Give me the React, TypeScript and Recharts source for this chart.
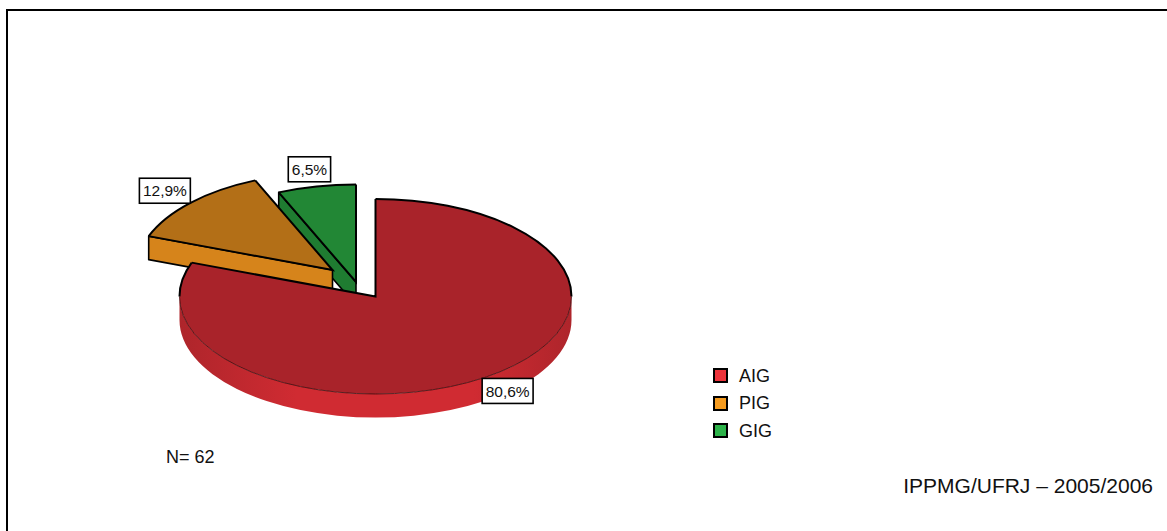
import React from 'react';
import { PieChart, Pie, Legend } from 'recharts';

// Distribution of newborns by growth class (N = 62)
const categories = ['AIG', 'PIG', 'GIG'];
const counts = [50, 8, 4];
const sampleSize = 62;
const footnote = 'IPPMG/UFRJ – 2005/2006';

// Slices are listed back-to-front so the large front slice is painted last.
const pieData = categories.map((name, i) => ({ name, value: counts[i] })).reverse();

const FONT = '"Liberation Sans", Arial, Helvetica, sans-serif';

const SLICE_STYLE: Record<string, { top: string; side: string; sideEdge: string; legend: string }> = {
  AIG: { top: '#A9232A', side: '#D02B32', sideEdge: '#AE252B', legend: '#EC333B' },
  PIG: { top: '#B36F17', side: '#D6841B', sideEdge: '#D6841B', legend: '#F59B1F' },
  GIG: { top: '#228735', side: '#1F7C31', sideEdge: '#1F7C31', legend: '#2DB34A' },
};

// Pulled-out slices (screen offset of the slice apex)
const EXPLODE: Record<string, [number, number]> = {
  AIG: [0, 0],
  PIG: [-43, -26.5],
  GIG: [-19.5, -14.5],
};

const TILT = 0.4975; // vertical squash of the disc
const DEPTH = 23.5; // thickness of the disc

const RAD = Math.PI / 180;

function Slice3D(props: any) {
  const { cx, cy, outerRadius, startAngle, endAngle } = props;
  const name: string = props.name ?? props.payload?.name;
  const st = SLICE_STYLE[name];
  const [ox, oy] = EXPLODE[name] ?? [0, 0];
  const rx = outerRadius;
  const ry = outerRadius * TILT;
  const x0 = cx + ox;
  const y0 = cy + oy;
  const a0 = Math.min(startAngle, endAngle);
  const a1 = Math.max(startAngle, endAngle);

  const P = (deg: number, dz = 0) => [x0 + rx * Math.cos(deg * RAD), y0 - ry * Math.sin(deg * RAD) + dz];
  const f = (p: number[]) => `${p[0].toFixed(2)},${p[1].toFixed(2)}`;
  const arc = (from: number, to: number, dz = 0) => {
    const large = Math.abs(to - from) > 180 ? 1 : 0;
    const sweep = to > from ? 0 : 1;
    return `A${rx},${ry} 0 ${large} ${sweep} ${f(P(to, dz))}`;
  };

  // split the rim into front (visible side) and back parts
  const front: [number, number][] = [];
  const back: [number, number][] = [];
  let s = a0;
  while (s < a1 - 1e-9) {
    const next = Math.min(a1, (Math.floor(s / 180 + 1e-9) + 1) * 180);
    const mid = (s + next) / 2;
    (Math.sin(mid * RAD) < 0 ? front : back).push([s, next]);
    s = next;
  }

  const c = [x0, y0];
  const cD = [x0, y0 + DEPTH];
  const radialFaces: number[] = [];
  if (Math.cos(a0 * RAD) > 1e-6) radialFaces.push(a0);
  if (Math.cos(a1 * RAD) < -1e-6) radialFaces.push(a1);

  const gradId = `side-${name}`;
  const topPath = `M${f(c)} L${f(P(a0))} ${arc(a0, a1)} Z`;

  return (
    <g>
      <defs>
        <linearGradient id={gradId} x1="0" y1="0" x2="1" y2="0">
          <stop offset="0" stopColor={st.sideEdge} />
          <stop offset="0.3" stopColor={st.side} />
          <stop offset="0.75" stopColor={st.side} />
          <stop offset="1" stopColor={st.sideEdge} />
        </linearGradient>
      </defs>
      {radialFaces.map((a) => (
        <path
          key={`r${a}`}
          d={`M${f(c)} L${f(P(a))} L${f(P(a, DEPTH))} L${f(cD)} Z`}
          fill={st.side}
          stroke="#000"
          strokeWidth={1.6}
          strokeLinejoin="round"
        />
      ))}
      {front.map(([b0, b1]) => (
        <path
          key={`s${b0}`}
          d={`M${f(P(b0))} ${arc(b0, b1)} L${f(P(b1, DEPTH))} ${arc(b1, b0, DEPTH)} Z`}
          fill={`url(#${gradId})`}
          stroke="none"
        />
      ))}
      <path d={topPath} fill={st.top} stroke="none" />
      {front.map(([b0, b1]) => (
        <path key={`ft${b0}`} d={`M${f(P(b0))} ${arc(b0, b1)}`} fill="none" stroke="#3a0b0d" strokeWidth={0.8} />
      ))}
      {back.map(([b0, b1]) => (
        <path key={`bk${b0}`} d={`M${f(P(b0))} ${arc(b0, b1)}`} fill="none" stroke="#000" strokeWidth={2} />
      ))}
      <path
        d={`M${f(P(a0))} L${f(c)} L${f(P(a1))}`}
        fill="none"
        stroke="#000"
        strokeWidth={2}
        strokeLinejoin="miter"
      />
    </g>
  );
}

const CHAR_EM: Record<string, number> = { ',': 0.278, '%': 0.889 };
const LABEL_FONT = 15.5;

function PercentTag(props: any) {
  const { cx, cy, midAngle, outerRadius } = props;
  const name: string = props.name ?? props.payload?.name;
  const value: number = props.value ?? props.payload?.value;
  const [ox, oy] = EXPLODE[name] ?? [0, 0];
  const k = 1.18;
  const x = cx + ox + k * outerRadius * Math.cos(midAngle * RAD);
  const y = cy + oy - k * outerRadius * TILT * Math.sin(midAngle * RAD);
  const text = ((value / sampleSize) * 100).toFixed(1).replace('.', ',') + '%';
  const em = text.split('').reduce((acc, ch) => acc + (CHAR_EM[ch] ?? 0.556), 0);
  const w = em * LABEL_FONT + 7;
  const h = 25;
  return (
    <g>
      <rect x={x - w / 2} y={y - h / 2} width={w} height={h} fill="#fff" stroke="#000" strokeWidth={1.6} />
      <text x={x} y={y + 5.6} textAnchor="middle" fontFamily={FONT} fontSize={LABEL_FONT} fill="#111">
        {text}
      </text>
    </g>
  );
}

function LegendList(props: any) {
  const items = [...(props.payload ?? [])].sort(
    (a: any, b: any) => categories.indexOf(a.value) - categories.indexOf(b.value)
  );
  return (
    <div style={{ fontFamily: FONT, fontSize: 18, color: '#111' }}>
      {items.map((it: any) => (
        <div key={it.value} style={{ display: 'flex', alignItems: 'center', height: 27.5 }}>
          <span
            style={{
              display: 'inline-block',
              width: 11,
              height: 11,
              border: '2px solid #000',
              background: SLICE_STYLE[it.value]?.legend ?? it.color,
            }}
          />
          <span style={{ marginLeft: 11, lineHeight: '20px' }}>{it.value}</span>
        </div>
      ))}
    </div>
  );
}

export default function App() {
  return (
    <div style={{ position: 'fixed', left: 0, top: 0, width: 1167, height: 531, background: '#fff' }}>
      <PieChart width={1167} height={531} margin={{ top: 0, right: 0, bottom: 0, left: 0 }}>
        <Pie
          data={pieData}
          dataKey="value"
          nameKey="name"
          cx={375.5}
          cy={296.5}
          outerRadius={196}
          startAngle={90}
          endAngle={450}
          shape={Slice3D}
          inactiveShape={Slice3D}
          activeShape={Slice3D}
          label={PercentTag}
          labelLine={false}
          isAnimationActive={false}
        />
        <Legend
          layout="vertical"
          align="right"
          verticalAlign="top"
          content={LegendList}
          wrapperStyle={{ left: 713, top: 362, right: 'auto', bottom: 'auto', width: 'auto', height: 'auto' }}
        />
      </PieChart>
      <svg
        width={1167}
        height={531}
        style={{ position: 'absolute', left: 0, top: 0, pointerEvents: 'none' }}
      >
        <path d="M7,531 L7,10 L1167,10" fill="none" stroke="#000" strokeWidth={2} />
        <text x={166} y={463} fontFamily={FONT} fontSize={18} fill="#111">
          {`N= ${sampleSize}`}
        </text>
        <text x={1153} y={493} textAnchor="end" fontFamily={FONT} fontSize={21} fill="#111">
          {footnote}
        </text>
      </svg>
    </div>
  );
}
